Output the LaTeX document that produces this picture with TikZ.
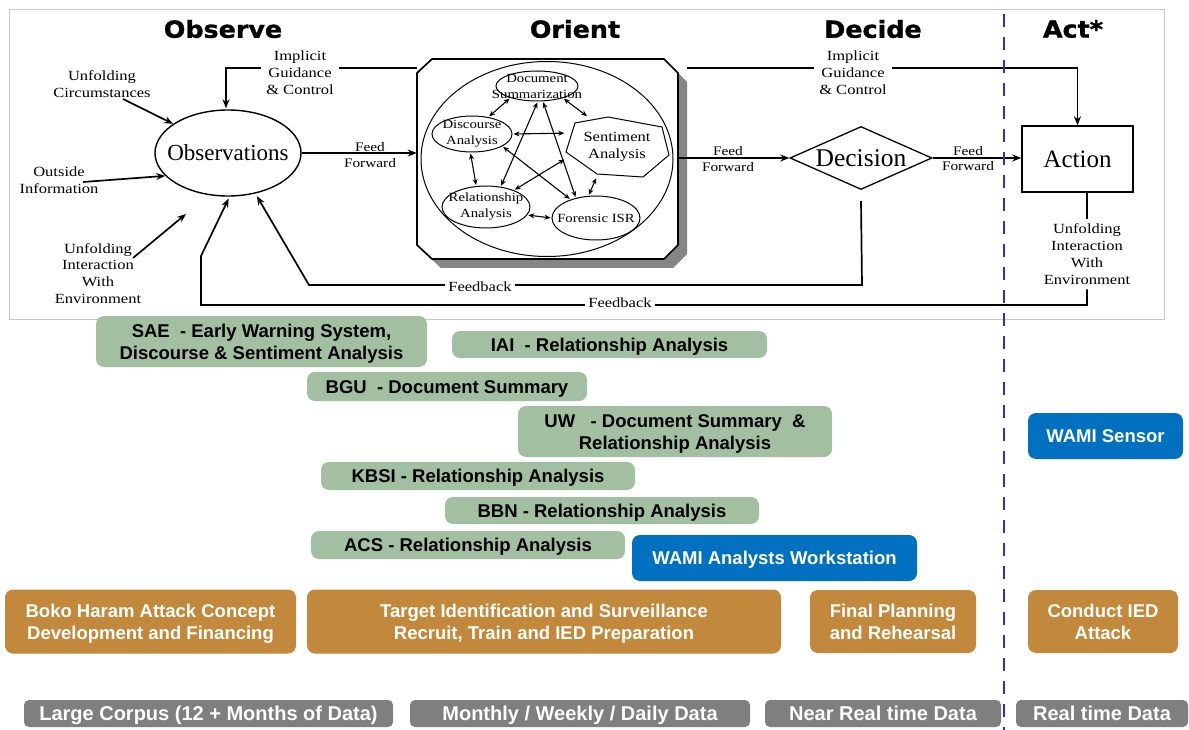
\documentclass[tikz,border=0pt]{standalone}
\usepackage{fontspec}
\setmainfont{Liberation Serif}
\setsansfont{Liberation Sans}
\newfontfamily\lblfont{Liberation Serif}[FakeStretch=1.18]
\newfontfamily\titlefont{DejaVu Sans}[FakeStretch=1.08,BoldFeatures={FakeBold=1.2}]
\usetikzlibrary{arrows.meta,shapes.geometric,calc}
\definecolor{gbox}{HTML}{A2C0A1}
\definecolor{bbox}{HTML}{0070C0}
\definecolor{obox}{HTML}{C2883B}
\definecolor{grbox}{HTML}{7F7F7F}
\definecolor{dashblue}{HTML}{2E2ED6}
\definecolor{panelline}{HTML}{C8C8C8}
\definecolor{shadowgray}{HTML}{858585}
\newcommand\bxstrut{\rule[-4.4pt]{0pt}{22pt}}
\newcommand\grstrut{\rule[-5pt]{0pt}{24.3pt}}
\begin{document}
\begin{tikzpicture}[x=1pt,y=-1pt,
  arr/.style={line width=1.7pt,-{Stealth[length=9pt,width=7pt]}},
  ln/.style={line width=1.7pt},
  darr/.style={line width=1.1pt,{Stealth[length=6pt,width=5pt]}-{Stealth[length=6pt,width=5pt]},shorten <=1pt,shorten >=1pt},
  lbl/.style={font=\lblfont\fontsize{14}{16.8}\selectfont,align=center,inner sep=1pt},
  ffl/.style={font=\lblfont\fontsize{13}{15.5}\selectfont,align=center,inner sep=0pt},
  inl/.style={font=\lblfont\fontsize{12.5}{16}\selectfont,align=center},
  ell/.style={ellipse,draw,line width=1pt,inner sep=0pt},
  ttl/.style={font=\titlefont\bfseries\fontsize{23.5}{28}\selectfont,inner sep=0pt},
  bx/.style={rounded corners=8pt,inner sep=0pt,align=center,font=\sffamily\bfseries\fontsize{18.5}{22}\selectfont},
  gb/.style={bx,fill=gbox,text=black},
  bb/.style={bx,fill=bbox,text=white},
  ob/.style={bx,fill=obox,text=white},
  grb/.style={bx,rounded corners=5pt,fill=grbox,text=white,font=\sffamily\bfseries\fontsize{20}{24.3}\selectfont},
]
\useasboundingbox (0,0) rectangle (1189,730);
\fill[white] (0,0) rectangle (1189,730);
% top panel
\draw[panelline,line width=0.8pt,fill=white] (9,9) rectangle (1164,319);

% titles
\node[ttl] (tobs) at (223,29) {Observe};
\node[ttl] (tori) at (575,29) {Orient};
\node[ttl] (tdec) at (873,29) {Decide};
\node[ttl] (tact) at (1073,29) {Act*};

% Orient box with shadow
\node[minimum width=261pt,minimum height=200pt,inner sep=0pt] (ori) at (547.5,159) {};
\fill[shadowgray] (441,68) -- (673,68) -- (687,82) -- (687,254) -- (673,268) -- (441,268) -- (426,254) -- (426,82) -- cycle;
\draw[line width=1.7pt,fill=white] (432,59) -- (664,59) -- (678,73) -- (678,245) -- (664,259) -- (432,259) -- (417,245) -- (417,73) -- cycle;
\node[ell,minimum width=252pt,minimum height=195pt] (ie) at (547,159) {};

% inner nodes
\node[ell,minimum width=82pt,minimum height=30pt,label={[inl]center:{Document\\Summarization}}] (ds) at (537,86) {};
\node[ell,minimum width=80pt,minimum height=36pt,label={[inl]center:{Discourse\\Analysis}}] (da) at (472,134) {};
\draw[line width=1pt] (575,123) -- (608,117) -- (662,127) -- (669,155) -- (643,177) -- (597,174) -- (566,152) -- cycle;
\node[minimum width=103pt,minimum height=60pt,inner sep=0pt,align=center,font=\lblfont\fontsize{14}{17.5}\selectfont] (sa) at (617,147) {Sentiment\\Analysis};
\node[ell,minimum width=88pt,minimum height=42pt,label={[inl]center:{Relationship\\Analysis}}] (ra) at (486,207) {};
\node[ell,minimum width=88pt,minimum height=44pt,label={[inl]center:{Forensic ISR}}] (fi) at (596,218) {};

\draw[darr] (ds.204) -- (da.46);
\draw[darr] (ds.335) -- (sa.134);
\draw[darr] (da.0) -- (sa.165);
\draw[darr] (da.265) -- (ra.115);
\draw[darr] (da.338) -- (fi.144);
\draw[darr] (ds.273) -- (ra.54);
\draw[darr] (ds.291) -- (fi.135);
\draw[darr] (sa.193) -- (ra.31);
\draw[darr] (sa.236) -- (fi.109);
\draw[darr] (ra.349) -- (fi.180);

% main nodes
\node[ellipse,draw,line width=1.4pt,inner sep=0pt,minimum width=146pt,minimum height=86pt,
  label={[font=\fontsize{23}{27}\selectfont]center:Observations}] (obs) at (228,153) {};
\node[diamond,draw,line width=1.3pt,inner sep=0pt,minimum width=142pt,minimum height=63pt,
  label={[font=\fontsize{25.5}{30}\selectfont]center:Decision}] (dec) at (861,158) {};
\node[draw,line width=1.4pt,inner sep=0pt,minimum width=111pt,minimum height=66pt,
  font=\fontsize{25}{30}\selectfont] (act) at (1077.5,159) {Action};

% inputs to observations
\node[lbl] (uc) at (102,84) {Unfolding\\Circumstances};
\node[lbl] (oi) at (59,180.5) {Outside\\Information};
\node[lbl] (ui) at (98,273.5) {Unfolding\\Interaction\\With\\Environment};
\coordinate (ucs) at (123,99);
\coordinate (ois) at (83,182);
\coordinate (uis) at (133,258);
\coordinate (uie) at (186,214);
\draw[arr] (ucs) -- (obs.152);
\draw[arr] (ois) -- (obs.200);
\draw[arr] (uis) -- (uie);

% implicit guidance lines
\coordinate (igLy) at (226,68);
\coordinate (igRy) at (1077.5,68);
\draw[arr,shorten >=1pt] (ori.west |- igLy) -- (igLy) -- (igLy |- obs.north);
\draw[arr] ($(ori.east |- igRy)+(9,0)$) -- (igRy) -- (act.north);

% feed forward
\draw[arr] (obs.east) -- (ori.west |- obs.east);
\draw[arr] (ori.east |- dec.west) -- (dec.west);
\draw[arr] (dec.east) -- (act.west |- dec.east);
\node[ffl] (ff1) at (370,155) {Feed\\Forward};
\node[ffl] (ff2) at (728,159) {Feed\\Forward};
\node[ffl] (ff3) at (968,158.5) {Feed\\Forward};

% action output
\node[lbl,inner ysep=5pt] (ui2) at (1087,254) {Unfolding\\Interaction\\With\\Environment};
\draw[ln] (act.south -| ui2.north) -- (ui2.north);

% feedback loops
\coordinate (fb1a) at (862,285);
\coordinate (fb1b) at (309,285);
\draw[arr,shorten >=3pt] ($(dec.south)+(0,11)$) -- (fb1a) -- (fb1b) -- (obs.304);
\coordinate (fb2a) at (1087,305);
\coordinate (fb2b) at (201,305);
\coordinate (fb2c) at (201,256);
\draw[arr,shorten >=2pt] (ui2.south) -- (fb2a) -- (fb2b) -- (fb2c) -- (obs.272);

% labels with white background over lines
\node[lbl,fill=white,inner xsep=5pt] (igL) at (300,72.5) {Implicit\\Guidance\\\& Control};
\node[lbl,fill=white,inner xsep=5pt] (igR) at (853,72.5) {Implicit\\Guidance\\\& Control};
\node[lbl,fill=white,inner xsep=3pt,inner ysep=0pt] (fb1) at (480,287) {Feedback};
\node[lbl,fill=white,inner xsep=3pt,inner ysep=0pt] (fb2) at (620,303) {Feedback};

% boxes
\node[gb,minimum width=331pt,minimum height=51pt] (sae) at (261.5,341.5) {\bxstrut SAE\ \ - Early Warning System,\\\bxstrut Discourse \& Sentiment Analysis};
\node[gb,minimum width=315pt,minimum height=27pt] (iai) at (609.5,344.5) {\bxstrut IAI\ \ - Relationship Analysis};
\node[gb,minimum width=280pt,minimum height=29pt] (bgu) at (447,386.5) {\bxstrut BGU\ \ - Document Summary};
\node[gb,minimum width=314pt,minimum height=51pt] (uw) at (675,431.5) {\bxstrut UW\ \ \ - Document Summary\ \ \&\\\bxstrut Relationship Analysis};
\node[gb,minimum width=314pt,minimum height=28pt] (kbsi) at (478,476) {\bxstrut KBSI - Relationship Analysis};
\node[gb,minimum width=314pt,minimum height=27pt] (bbn) at (602,510.5) {\bxstrut BBN - Relationship Analysis};
\node[gb,minimum width=314pt,minimum height=28pt] (acs) at (468,545) {\bxstrut ACS\ - Relationship Analysis};
\node[bb,minimum width=285pt,minimum height=46pt] (wamiw) at (774.5,558) {\bxstrut WAMI Analysts Workstation};
\node[bb,minimum width=155pt,minimum height=46pt] (wamis) at (1105.5,436) {\bxstrut WAMI Sensor};

\node[ob,minimum width=291pt,minimum height=64pt] (boko) at (150.5,621.5) {\bxstrut Boko Haram Attack Concept\\\bxstrut Development and Financing};
\node[ob,minimum width=474pt,minimum height=64pt] (targ) at (544,621.5) {\bxstrut Target Identification and Surveillance\\\bxstrut Recruit, Train and IED Preparation};
\node[ob,minimum width=166pt,minimum height=63pt] (final) at (893,621.5) {\bxstrut Final Planning\\\bxstrut and Rehearsal};
\node[ob,minimum width=150pt,minimum height=63pt] (cond) at (1103,621.5) {\bxstrut Conduct IED\\\bxstrut Attack};

\node[grb,minimum width=369pt,minimum height=27pt] (lc) at (208.5,713.5) {\grstrut Large Corpus (12 + Months of Data)};
\node[grb,minimum width=340pt,minimum height=27pt] (mw) at (580,713.5) {\grstrut Monthly / Weekly / Daily Data};
\node[grb,minimum width=236pt,minimum height=27pt] (nrt) at (883,713.5) {\grstrut Near Real time Data};
\node[grb,minimum width=172pt,minimum height=27pt] (rt) at (1102,713.5) {\grstrut Real time Data};

% dashed divider
\coordinate (dvt) at (1004,14);
\coordinate (dvb) at (1004,730);
\draw[dashblue,line width=2.8pt,dash pattern=on 13pt off 10pt] (dvt) -- (dvb);
\end{tikzpicture}
\end{document}
